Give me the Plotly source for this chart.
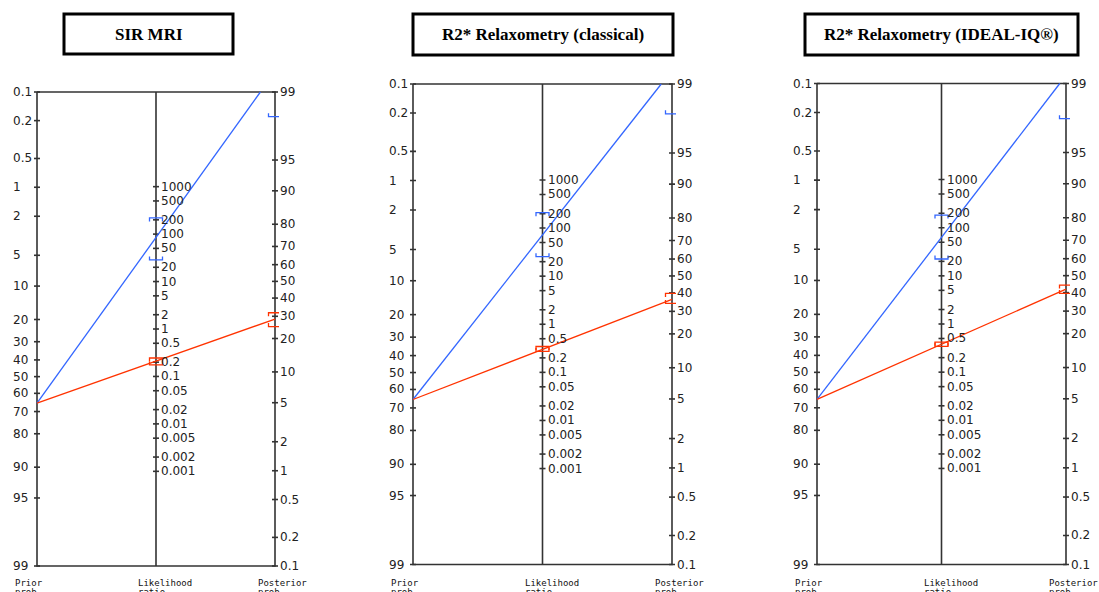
import numpy as np
import plotly.graph_objects as go

# ---------------- data ----------------
titles = ["SIR MRI", "R2* Relaxometry (classical)", "R2* Relaxometry (IDEAL-IQ®)"]
prior_pct = [65.6, 65.6, 65.6]
lr_pos = [85.0, 72.0, 63.0]
lr_pos_lo = [28.5, 25.4, 22.4]
lr_pos_hi = [219.0, 209.0, 183.0]
lr_neg = [0.21, 0.30, 0.38]
lr_neg_lo = [0.175, 0.272, 0.343]
lr_neg_hi = [0.245, 0.345, 0.419]

prior_ticks = [0.1, 0.2, 0.5, 1, 2, 5, 10, 20, 30, 40, 50, 60, 70, 80, 90, 95, 99]
lr_ticks = [1000, 500, 200, 100, 50, 20, 10, 5, 2, 1, 0.5, 0.2, 0.1, 0.05, 0.02,
            0.01, 0.005, 0.002, 0.001]
post_ticks = [99, 95, 90, 80, 70, 60, 50, 40, 30, 20, 10, 5, 2, 1, 0.5, 0.2, 0.1]
bottom_line1 = ["Prior", "Likelihood", "Posterior"]
bottom_line2 = ["prob.", "ratio", "prob."]

# ---------------- layout geometry (pixels) ----------------
W, H = 1099, 592
geom = [
    dict(left=37, right=275, top=92, bottom=566, box=(64, 14, 233, 54)),
    dict(left=413, right=672, top=84, bottom=564.5, box=(413, 14, 673, 55)),
    dict(left=817, right=1066, top=83.5, bottom=564.5, box=(805, 14, 1078, 55)),
]
BLUE = "#3366ff"
RED = "#ff3300"
AXC = "#333333"
TICKFONT = dict(family="DejaVu Sans", size=12, color="#222222")
SMALLFONT = dict(family="DejaVu Sans Mono", size=9, color="#111")


# ---------------- nomogram scales ----------------
def logit(p):
    return np.log(p / (1 - p))


L_PRIOR_TOP = logit(0.001)
L_POST_TOP = logit(0.99)
SPAN = L_POST_TOP - L_PRIOR_TOP


def w_prior(pct):
    return L_PRIOR_TOP - logit(np.asarray(pct, float) / 100)


def w_post(pct):
    return logit(np.asarray(pct, float) / 100) - L_POST_TOP


def w_lr(lr):
    return -SPAN / 2 + np.log(np.asarray(lr, float)) / 2


def post_pct(prior, lr):
    odds = prior / (100 - prior) * lr
    return 100 * odds / (1 + odds)


def fmt(v):
    return ("%g" % v)


fig = go.Figure()
annotations = []
shapes = []
PAD = 4

for i, g in enumerate(geom):
    sfx = "" if i == 0 else str(i + 1)
    xa, ya = "x" + sfx, "y" + sfx
    ppx = (g["right"] - g["left"]) / 2
    ppy = (g["bottom"] - g["top"]) / SPAN
    fig.layout["xaxis" + sfx] = dict(
        domain=[(g["left"] - PAD) / W, (g["right"] + PAD) / W],
        range=[-PAD / ppx, 2 + PAD / ppx], visible=False, anchor=ya, fixedrange=True)
    fig.layout["yaxis" + sfx] = dict(
        domain=[1 - (g["bottom"] + PAD) / H, 1 - (g["top"] - PAD) / H],
        range=[-SPAN - PAD / ppy, PAD / ppy], visible=False, anchor=xa, fixedrange=True)

    # frame + middle axis
    fx = [0, 2, 2, 0, 0, None, 1, 1]
    fy = [0, 0, -SPAN, -SPAN, 0, None, 0, -SPAN]
    # tick marks
    tk = 3 / ppx
    for xc, ws in ((0, w_prior(prior_ticks)), (1, w_lr(lr_ticks)), (2, w_post(post_ticks))):
        for w in ws:
            fx += [None, xc - tk, xc + tk]
            fy += [None, w, w]
    fig.add_trace(go.Scatter(x=fx, y=fy, xaxis=xa, yaxis=ya, mode="lines",
                             line=dict(color=AXC, width=1.6), hoverinfo="skip",
                             showlegend=False))

    # tick labels
    for v, w in zip(prior_ticks, w_prior(prior_ticks)):
        annotations.append(dict(x=0, y=w, xref=xa, yref=ya, text=fmt(v), showarrow=False,
                                xanchor="left", yanchor="middle", xshift=-26, font=TICKFONT))
    for v, w in zip(lr_ticks, w_lr(lr_ticks)):
        annotations.append(dict(x=1, y=w, xref=xa, yref=ya, text=fmt(v), showarrow=False,
                                xanchor="left", yanchor="middle", xshift=3, font=TICKFONT))
    for v, w in zip(post_ticks, w_post(post_ticks)):
        annotations.append(dict(x=2, y=w, xref=xa, yref=ya, text=fmt(v), showarrow=False,
                                xanchor="left", yanchor="middle", xshift=3, font=TICKFONT))

    # bottom axis names (second line is cut by the page edge, as in the source image)
    for xc, l1, l2, sh in zip((0, 1, 2), bottom_line1, bottom_line2, (-24, -20, -19)):
        annotations.append(dict(x=xc, y=1 - 576 / H, xref=xa, yref="paper", text=l1,
                                showarrow=False, xanchor="left", yanchor="top", xshift=sh,
                                font=SMALLFONT))
        annotations.append(dict(x=xc, y=1 - 584.5 / H, xref=xa, yref="paper", text=l2,
                                showarrow=False, xanchor="left", yanchor="top", xshift=sh,
                                font=SMALLFONT))

    # title box
    bx0, by0, bx1, by1 = g["box"]
    shapes.append(dict(type="rect", xref="paper", yref="paper",
                       x0=bx0 / W, x1=bx1 / W, y0=1 - by1 / H, y1=1 - by0 / H,
                       line=dict(color="black", width=3), fillcolor="white", layer="below"))
    annotations.append(dict(x=(bx0 + bx1) / 2 / W, y=1 - (by0 + by1) / 2 / H,
                            xref="paper", yref="paper", text="<b>%s</b>" % titles[i],
                            showarrow=False, xanchor="center", yanchor="middle",
                            font=dict(family="Liberation Serif", size=17, color="black")))

    # Fagan lines and CI brackets
    bw = 6.5 / ppx
    bt = 3.5 / ppy
    for lr, lo, hi, col in ((lr_pos[i], lr_pos_lo[i], lr_pos_hi[i], BLUE),
                            (lr_neg[i], lr_neg_lo[i], lr_neg_hi[i], RED)):
        p = prior_pct[i]
        w0 = float(w_prior(p))
        w2 = float(w_post(post_pct(p, lr)))
        if w2 > 0:
            t = (0 - w0) / (w2 - w0)
            lx, ly = [0, 2 * t], [w0, 0]
        else:
            lx, ly = [0, 2], [w0, w2]
        fig.add_trace(go.Scatter(x=lx, y=ly, xaxis=xa, yaxis=ya, mode="lines",
                                 line=dict(color=col, width=1.3), hoverinfo="skip",
                                 showlegend=False))
        bxs, bys = [], []
        for xc, whi, wlo in ((1, float(w_lr(hi)), float(w_lr(lo))),
                             (2, float(w_post(post_pct(p, hi))), float(w_post(post_pct(p, lo))))):
            for wv, d in ((whi, -bt), (wlo, bt)):
                if wv > 0:
                    continue
                bxs += [xc - bw, xc - bw, xc + bw, xc + bw, None]
                bys += [wv + d, wv, wv, wv + d, None]
        fig.add_trace(go.Scatter(x=bxs, y=bys, xaxis=xa, yaxis=ya, mode="lines",
                                 line=dict(color=col, width=1.3), hoverinfo="skip",
                                 showlegend=False))

fig.update_layout(width=W, height=H, margin=dict(l=0, r=0, t=0, b=0),
                  paper_bgcolor="white", plot_bgcolor="white",
                  annotations=annotations, shapes=shapes, showlegend=False)
fig.write_html("out.html", config={"displayModeBar": False},
               post_script="document.body.style.margin='0px';document.body.style.overflow='hidden';")
